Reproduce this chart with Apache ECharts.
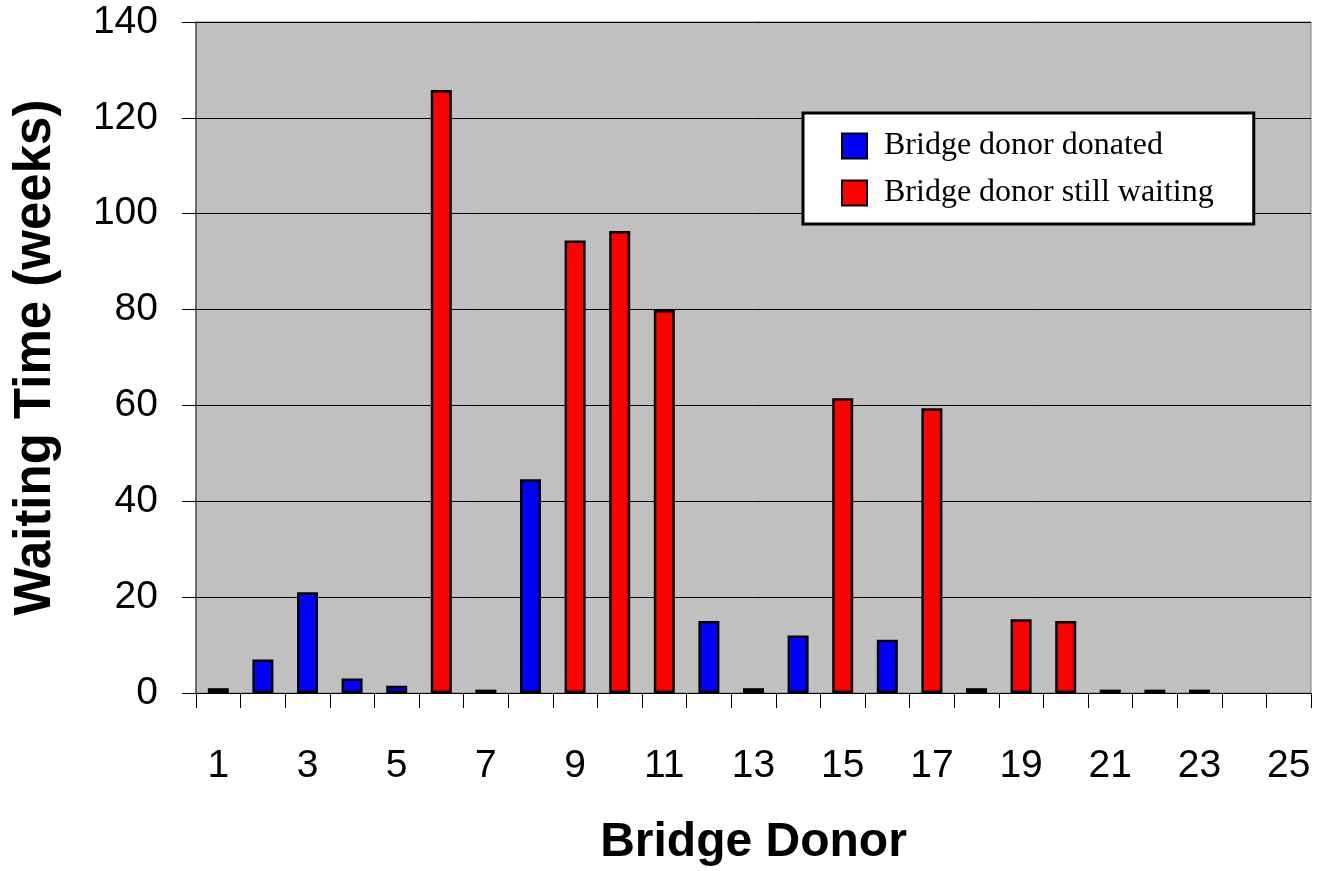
<!DOCTYPE html>
<html>
<head>
<meta charset="utf-8">
<script src="https://cdn.jsdelivr.net/npm/echarts@6/dist/echarts.min.js"></script>
<style>
  html, body { margin: 0; padding: 0; background: #fff; }
  #main { width: 1321px; height: 871px; }
</style>
</head>
<body>
<div id="main"></div>
<script>
// bridge donor numbers 1..25
const donors = ['1','2','3','4','5','6','7','8','9','10','11','12','13','14','15','16','17','18','19','20','21','22','23','24','25'];
// weeks waited, '-' where the donor is in the other group
const donated = [1, 7, 21, 3, 1.5, '-', 0.7, 44.6, '-', '-', '-', 15, 1, 12, '-', 11.1, '-', 1, '-', '-', 0.7, 0.7, 0.7, '-', '-'];
const stillWaiting = ['-', '-', '-', '-', '-', 125.8, '-', '-', 94.4, 96.4, 79.9, '-', '-', '-', 61.5, '-', 59.4, '-', 15.4, 15, '-', '-', '-', '-', '-'];
const yTicks = [0, 140, 20];

let myChart = echarts.init(document.getElementById('main'));
window.addEventListener('resize', function () {
  myChart.resize();
});

const barBorder = { borderColor: '#000', borderWidth: 2.5 };

let option = {
  backgroundColor: '#fff',
  animation: false,
  textStyle: { fontFamily: 'Liberation Sans, Arial, sans-serif' },
  grid: {
    left: 196,
    right: 10,
    top: 22,
    bottom: 178,
    outerBoundsMode: 'none',
    show: true,
    backgroundColor: '#c0c0c0',
    borderColor: '#808080',
    borderWidth: 1
  },
  legend: {
    left: 803,
    top: 113,
    orient: 'vertical',
    backgroundColor: '#fff',
    borderColor: '#000',
    borderWidth: 3,
    padding: [17, 40, 15, 38],
    icon: 'rect',
    itemWidth: 25,
    itemHeight: 25,
    itemGap: 15,
    itemStyle: { borderColor: '#000', borderWidth: 2 },
    textStyle: {
      fontFamily: 'Liberation Serif, Times New Roman, serif',
      fontSize: 32,
      color: '#000',
      padding: [0, 0, 0, 12]
    },
    data: ['Bridge donor donated', 'Bridge donor still waiting']
  },
  xAxis: {
    type: 'category',
    data: donors,
    name: 'Bridge Donor',
    nameLocation: 'middle',
    nameGap: 126,
    nameTextStyle: { fontSize: 48, fontWeight: 'bold', color: '#000' },
    axisLine: { lineStyle: { color: '#000', width: 1 } },
    axisTick: { show: true, interval: 0, length: 15, lineStyle: { color: '#000' } },
    axisLabel: { interval: 1, fontSize: 39, color: '#000', margin: 54 },
    splitLine: { show: false }
  },
  yAxis: {
    type: 'value',
    min: yTicks[0],
    max: yTicks[1],
    interval: yTicks[2],
    name: 'Waiting Time (weeks)',
    nameLocation: 'middle',
    nameGap: 135,
    nameTextStyle: { fontSize: 51, fontWeight: 'bold', color: '#000' },
    axisLine: { show: true, lineStyle: { color: '#555', width: 1.5 } },
    axisTick: { show: true, length: 14, lineStyle: { color: '#000' } },
    axisLabel: { fontSize: 39, color: '#000', margin: 38 },
    splitLine: { show: true, lineStyle: { color: '#000', width: 1 } }
  },
  series: [
    {
      name: 'Bridge donor donated',
      type: 'bar',
      barWidth: 21,
      barGap: '-100%',
      itemStyle: Object.assign({ color: '#0000ff' }, barBorder),
      data: donated
    },
    {
      name: 'Bridge donor still waiting',
      type: 'bar',
      barWidth: 21,
      itemStyle: Object.assign({ color: '#ff0000' }, barBorder),
      data: stillWaiting
    }
  ]
};

option && myChart.setOption(option);
</script>
</body>
</html>
